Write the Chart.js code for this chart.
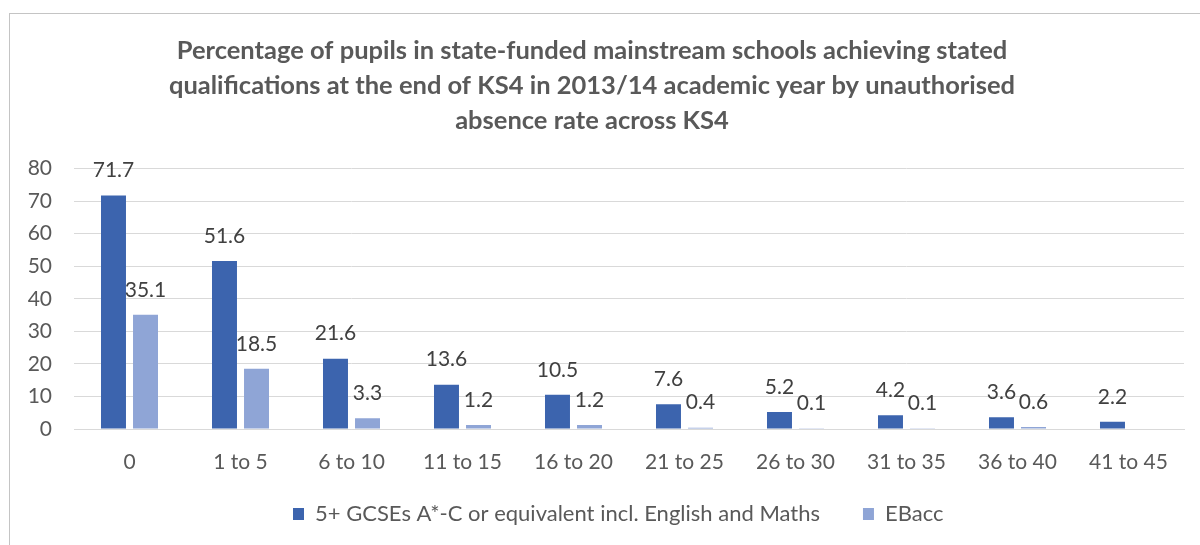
<!DOCTYPE html>
<html>
<head>
<meta charset="utf-8">
<title>Unauthorised absence and KS4 attainment</title>
<script src="https://cdn.jsdelivr.net/npm/chart.js@4.4.1/dist/chart.umd.min.js"></script>
<style>
    html, body {
        margin: 0;
        padding: 0;
        background: #ffffff;
        overflow: hidden;
    }
    #wrap {
        position: relative;
        width: 1200px;
        height: 545px;
    }
    #frame {
        position: absolute;
        left: 9px;
        top: 13px;
        width: 1300px;
        height: 700px;
        border: 1px solid #c4c4c4;
    }
    #absenceChart {
        position: absolute;
        left: 0;
        top: 0;
    }
</style>
</head>
<body>
<div id="wrap">
    <div id="frame"></div>
    <canvas id="absenceChart" width="1200" height="545"></canvas>
</div>

<script>
// data
const categories = ['0', '1 to 5', '6 to 10', '11 to 15', '16 to 20', '21 to 25', '26 to 30', '31 to 35', '36 to 40', '41 to 45'];
const gcseValues = [71.7, 51.6, 21.6, 13.6, 10.5, 7.6, 5.2, 4.2, 3.6, 2.2];
const ebaccValues = [35.1, 18.5, 3.3, 1.2, 1.2, 0.4, 0.1, 0.1, 0.6, null];
const yTicks = [0, 10, 20, 30, 40, 50, 60, 70, 80];

const titleLines = [
    'Percentage of pupils in state-funded mainstream schools achieving stated',
    'qualifications at the end of KS4 in 2013/14 academic year by unauthorised',
    'absence rate across KS4'
];

const FONT = 'Lato, "Open Sans", sans-serif';

// value labels above each bar (no datalabels plugin available offline)
const barLabels = {
    id: 'barLabels',
    afterDatasetsDraw(chart) {
        const ctx = chart.ctx;
        ctx.save();
        ctx.font = '21px ' + FONT;
        ctx.fillStyle = '#404040';
        ctx.textAlign = 'center';
        ctx.textBaseline = 'middle';
        chart.data.datasets.forEach((ds, i) => {
            const meta = chart.getDatasetMeta(i);
            meta.data.forEach((bar, j) => {
                const v = ds.data[j];
                if (v === null || v === undefined) return;
                ctx.fillText(v.toFixed(1), bar.x, bar.y - 25);
            });
        });
        ctx.restore();
    }
};

// move legend so it sits where the original one is
const legendShift = {
    id: 'legendShift',
    afterLayout(chart) {
        const lg = chart.legend;
        if (!lg || !lg.lineWidths) return;
        const pad = lg.options.labels.padding;
        const startX = (lg.left + pad + lg.right - lg.lineWidths[0]) / 2;
        const dx = 293 - startX;
        lg.left += dx;
        lg.right += dx;
        // item centre is top + padding + half the font size
        const dy = 514 - (lg.top + pad + 11);
        lg.top += dy;
        lg.bottom += dy;
    }
};

const ctx = document.getElementById('absenceChart').getContext('2d');

const absenceChart = new Chart(ctx, {
    type: 'bar',
    data: {
        labels: categories,
        datasets: [
            {
                label: '5+ GCSEs A*-C or equivalent incl. English and Maths',
                data: gcseValues,
                backgroundColor: '#3c64ae',
                borderWidth: 0
            },
            {
                label: 'EBacc',
                data: ebaccValues,
                backgroundColor: '#8fa5d6',
                borderWidth: 0
            }
        ]
    },
    options: {
        responsive: false,
        animation: false,
        categoryPercentage: 0.577,
        barPercentage: 0.78,
        layout: {
            padding: { left: 0, right: 16, top: 0, bottom: 1 }
        },
        plugins: {
            title: {
                display: true,
                text: titleLines,
                color: '#595959',
                font: { family: FONT, size: 25.5, weight: 'bold', lineHeight: 1.38 },
                padding: { top: 33, bottom: 30 }
            },
            legend: {
                position: 'bottom',
                labels: {
                    color: '#595959',
                    font: { family: FONT, size: 22 },
                    boxWidth: 11,
                    boxHeight: 12,
                    padding: 43
                }
            },
            tooltip: { enabled: false }
        },
        scales: {
            x: {
                grid: { display: false, drawTicks: false },
                border: { display: true, color: '#d9d9d9' },
                ticks: {
                    color: '#595959',
                    font: { family: FONT, size: 21 },
                    padding: 21,
                    maxRotation: 0
                },
                afterFit(scale) {
                    scale.height = 40;
                }
            },
            y: {
                min: 0,
                max: 80,
                afterBuildTicks(scale) {
                    scale.ticks = yTicks.map(v => ({ value: v }));
                },
                grid: { color: '#d9d9d9', drawTicks: false },
                border: { display: false },
                ticks: {
                    color: '#595959',
                    font: { family: FONT, size: 21 },
                    padding: 22
                },
                afterFit(scale) {
                    scale.width = 74;
                }
            }
        }
    },
    plugins: [barLabels, legendShift]
});
</script>
</body>
</html>
